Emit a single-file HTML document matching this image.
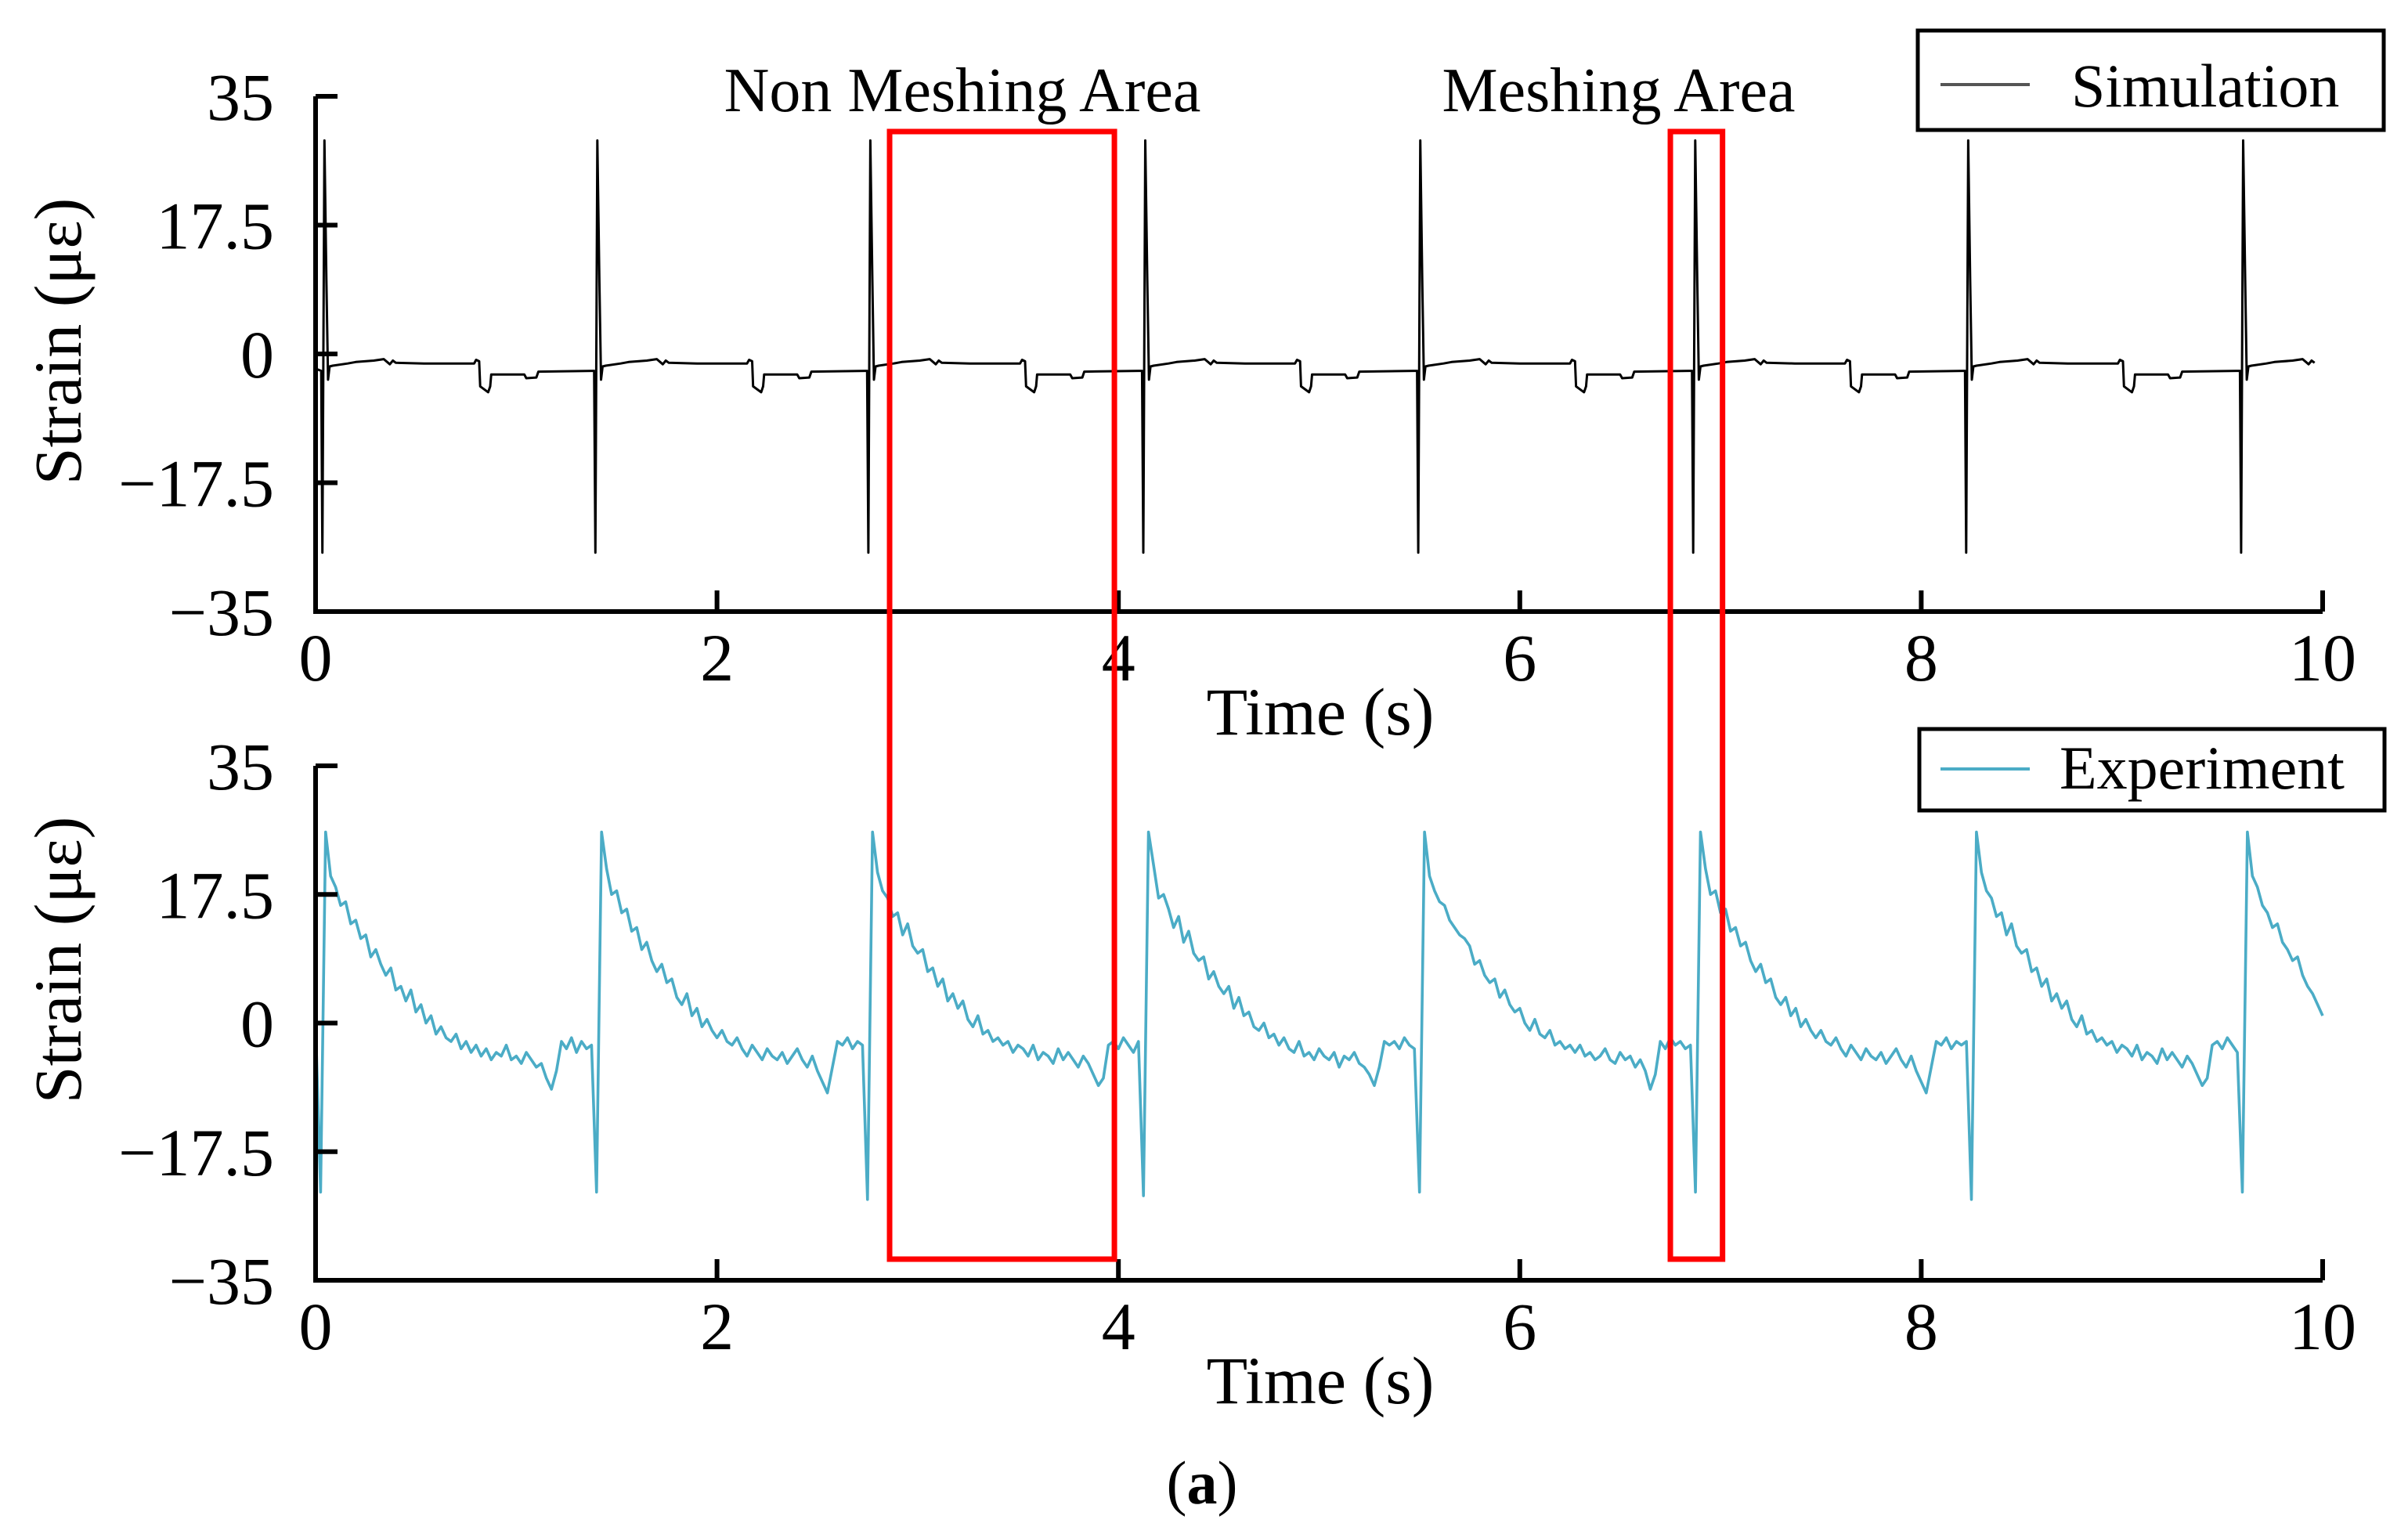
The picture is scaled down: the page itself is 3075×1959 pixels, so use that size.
<!DOCTYPE html>
<html><head><meta charset="utf-8"><style>
html,body{margin:0;padding:0;background:#fff;}
svg{display:block;font-family:"Liberation Serif",serif;}
</style></head><body>
<svg id="chart" width="3075" height="1959" viewBox="0 0 3075 1959" xmlns="http://www.w3.org/2000/svg"></svg>
<script>
// ---- data ----
const xTicks = [0, 2, 4, 6, 8, 10];
const yTicks = [35, 17.5, 0, -17.5, -35];
const yTickLabels = ["35", "17.5", "0", "\u221217.5", "\u221235"];
const xTickLabels = ["0", "2", "4", "6", "8", "10"];
const simSpikeTimes = [0.04, 1.40, 2.76, 4.13, 5.50, 6.87, 8.23, 9.60];
const simShapeOffsets = [-0.012,-0.006,0.004,0.014,0.022,0.03,0.045,0.12,0.16,0.25,0.3,0.33,0.345,0.36,0.5,0.75,0.76,0.775,0.78,0.82,0.83,0.835,1.0,1.01,1.06,1.07,1.34];
const simShapeValues = [-2.3,-27,29,10,-3.5,-1.7,-1.6,-1.3,-1.1,-0.9,-0.7,-1.4,-0.9,-1.2,-1.3,-1.3,-0.8,-1.0,-4.4,-5.2,-4.4,-2.8,-2.8,-3.3,-3.2,-2.4,-2.3];
const expStep = 0.025;
const expValues = [0,
-23,26,20,18.5,16,16.5,13.5,14,11.5,12,9,10,8,6.5,7.5,4.5,5,3,4.5,1.5,2.5,0,1,-1.5,-0.5,-2,-2.5,-1.5,-3.5,-2.5,-4,-3,-4.5,-3.5,-5,-4,-4.5,-3,-5,-4.5,-5.5,-4,-5,-6,-5.5,-7.5,-9,-6.5,-2.5,-3.5,-2,-4,-2.5,-3.5,-3,
-23,26,21,17.5,18,15,15.5,12.5,13,10,11,8.5,7,8,5.5,6,3.5,2.5,4,1,2,-0.5,0.5,-1,-2,-1,-2.5,-3,-2,-3.5,-4.5,-3,-4,-5,-3.5,-4.5,-5,-4,-5.5,-4.5,-3.5,-5,-6,-4.5,-6.5,-8,-9.5,-6,-2.5,-3,-2,-3.5,-2.5,-3,
-24,26,20.5,18,17,14.5,15,12,13.5,10.5,9.5,10,7,7.5,5,6,3,4,2,3,0.5,-0.5,1,-1.5,-1,-2.5,-2,-3,-2.5,-4,-3,-3.5,-4.5,-3,-5,-4,-4.5,-5.5,-3.5,-5,-4,-5,-6,-4.5,-5.5,-7,-8.5,-7.5,-3,-2.5,-3.5,-2,-3,-4,-2.5,
-23.5,26,21.5,17,17.5,15.5,13,14.5,11,12.5,9.5,8.5,9,6,7,5,4,5,2,3.5,1,1.5,-0.5,-1,0,-2,-1.5,-3,-2,-3.5,-4,-2.5,-4.5,-4,-5,-3.5,-4.5,-5,-4,-6,-4.5,-5,-4,-5.5,-6,-7,-8.5,-6,-2.5,-3,-2.5,-3.5,-2,-3,-3.5,
-23,26,20,18,16.5,16,14,13,12,11.5,10.5,8,8.5,6.5,5.5,6,3.5,4.5,2.5,1.5,2,0,-1,0.5,-1.5,-2,-1,-3,-2.5,-3.5,-3,-4,-3,-4.5,-4,-5,-4.5,-3.5,-5,-5.5,-4,-5,-4.5,-6,-5,-6.5,-9,-7,-2.5,-3.5,-2,-3,-2.5,-3.5,-3,
-23,26,21,17.5,18,15,15.5,12.5,13,10.5,11,8.5,7,8,5.5,6,3.5,2.5,3.5,1,2,-0.5,0.5,-1,-2,-1,-2.5,-3,-2,-3.5,-4.5,-3,-4,-5,-3.5,-4.5,-5,-4,-5.5,-4.5,-3.5,-5,-6,-4.5,-6.5,-8,-9.5,-6,-2.5,-3,-2,-3.5,-2.5,-3,-2.5,
-24,26,20.5,18,17,14.5,15,12,13.5,10.5,9.5,10,7,7.5,5,6,3,4,2,3,0.5,-0.5,1,-1.5,-1,-2.5,-2,-3,-2.5,-4,-3,-3.5,-4.5,-3,-5,-4,-4.5,-5.5,-3.5,-5,-4,-5,-6,-4.5,-5.5,-7,-8.5,-7.5,-3,-2.5,-3.5,-2,-3,-4,
-23,26,20,18.5,16,15,13,13.5,11,10,8.5,9,6.5,5,4,2.5,1];
const boxRanges = [[2.86, 3.98], [6.75, 7.01]];

// ---- layout ----
const NS = "http://www.w3.org/2000/svg";
const svg = document.getElementById("chart");
const X0 = 403, X1 = 2966;
const panels = [{top: 123, bottom: 781, name: "simulation"}, {top: 978, bottom: 1635, name: "experiment"}];
function xs(t){ return X0 + (t - 0) / 10 * (X1 - X0); }
function ysFor(p){ return v => p.bottom - (v + 35) / 70 * (p.bottom - p.top); }
function mk(tag, attrs, parent){
  const e = document.createElementNS(NS, tag);
  for (const k in attrs) e.setAttribute(k, attrs[k]);
  (parent || svg).appendChild(e);
  return e;
}
function txt(s, attrs, parent){ const e = mk("text", attrs, parent); e.textContent = s; return e; }

panels.forEach((p, pi) => {
  const ys = ysFor(p);
  const g = mk("g", {});
  
  
  let pts = [];
  if (pi === 0) {
    pts.push([xs(0), ys(-2)]);
    simSpikeTimes.forEach(s => {
      simShapeOffsets.forEach((o, i) => {
        const t = s + o;
        if (t >= 0 && t <= 10) pts.push([xs(t), ys(simShapeValues[i])]);
      });
    });
  } else {
    expValues.forEach((v, i) => pts.push([xs(i * expStep), ys(v)]));
  }
  const line = mk("polyline", {points: pts.map(q => q[0].toFixed(1) + "," + q[1].toFixed(1)).join(" "),
    fill: "none", stroke: pi === 0 ? "#000" : "#4bacc6", "stroke-width": pi === 0 ? 3 : 3.6, "stroke-linejoin": "round"}, g);
  
  
  const ax = mk("path", {d: `M${X0},${p.top} V${p.bottom} H${X1}`, fill: "none", stroke: "#000", "stroke-width": 6}, g);
  
  
  mk("line", {x1: X0, y1: p.top, x2: X0 + 28, y2: p.top, stroke: "#000", "stroke-width": 6}, g);
  yTicks.forEach((v, i) => {
    if (i > 0 && i < yTicks.length - 1) mk("line", {x1: X0, y1: ys(v), x2: X0 + 28, y2: ys(v), stroke: "#000", "stroke-width": 6}, g);
    const l = txt(yTickLabels[i], {x: 350, y: ys(v) + 30, "text-anchor": "end", "font-size": 86}, g);
    
    
  });
  xTicks.forEach((t, i) => {
    if (i > 0) mk("line", {x1: xs(t), y1: p.bottom, x2: xs(t), y2: p.bottom - 27, stroke: "#000", "stroke-width": 6}, g);
    const l = txt(xTickLabels[i], {x: xs(t), y: p.bottom + 88, "text-anchor": "middle", "font-size": 86}, g);
    
    
  });
  const xt = txt("Time (s)", {x: 1686, y: p.bottom + 157, "text-anchor": "middle", "font-size": 86}, g);
  
  
  const cy = pi === 0 ? 436 : 1226;
  const yt = txt("Strain (\u03bc\u03b5)", {x: 0, y: 0, transform: `translate(103,${cy}) rotate(-90)`, "text-anchor": "middle", "font-size": 86}, g);
  
  
});

const leg1 = mk("g", {});


mk("rect", {x: 2449, y: 39, width: 595, height: 127, fill: "#fff", stroke: "#000", "stroke-width": 5}, leg1);
mk("line", {x1: 2478, y1: 108, x2: 2592, y2: 108, stroke: "#555", "stroke-width": 4}, leg1);
txt("Simulation", {x: 2645, y: 136, "font-size": 78}, leg1);
const leg2 = mk("g", {});


mk("rect", {x: 2451, y: 931, width: 594, height: 104, fill: "#fff", stroke: "#000", "stroke-width": 5}, leg2);
mk("line", {x1: 2478, y1: 982, x2: 2592, y2: 982, stroke: "#4bacc6", "stroke-width": 4}, leg2);
txt("Experiment", {x: 2630, y: 1007, "font-size": 78}, leg2);

boxRanges.forEach((r, i) => {
  const b = mk("rect", {x: xs(r[0]), y: 168, width: xs(r[1]) - xs(r[0]), height: 1608 - 168, fill: "none", stroke: "#ff0000", "stroke-width": 7});
  
  
});
const a1 = txt("Non Meshing Area", {x: 1229, y: 142, "text-anchor": "middle", "font-size": 80});


const a2 = txt("Meshing Area", {x: 2067, y: 142, "text-anchor": "middle", "font-size": 80});


const cap = mk("text", {x: 1535, y: 1920, "text-anchor": "middle", "font-size": 78});


cap.innerHTML = '(<tspan font-weight="bold">a</tspan>)';
</script>
</body></html>
